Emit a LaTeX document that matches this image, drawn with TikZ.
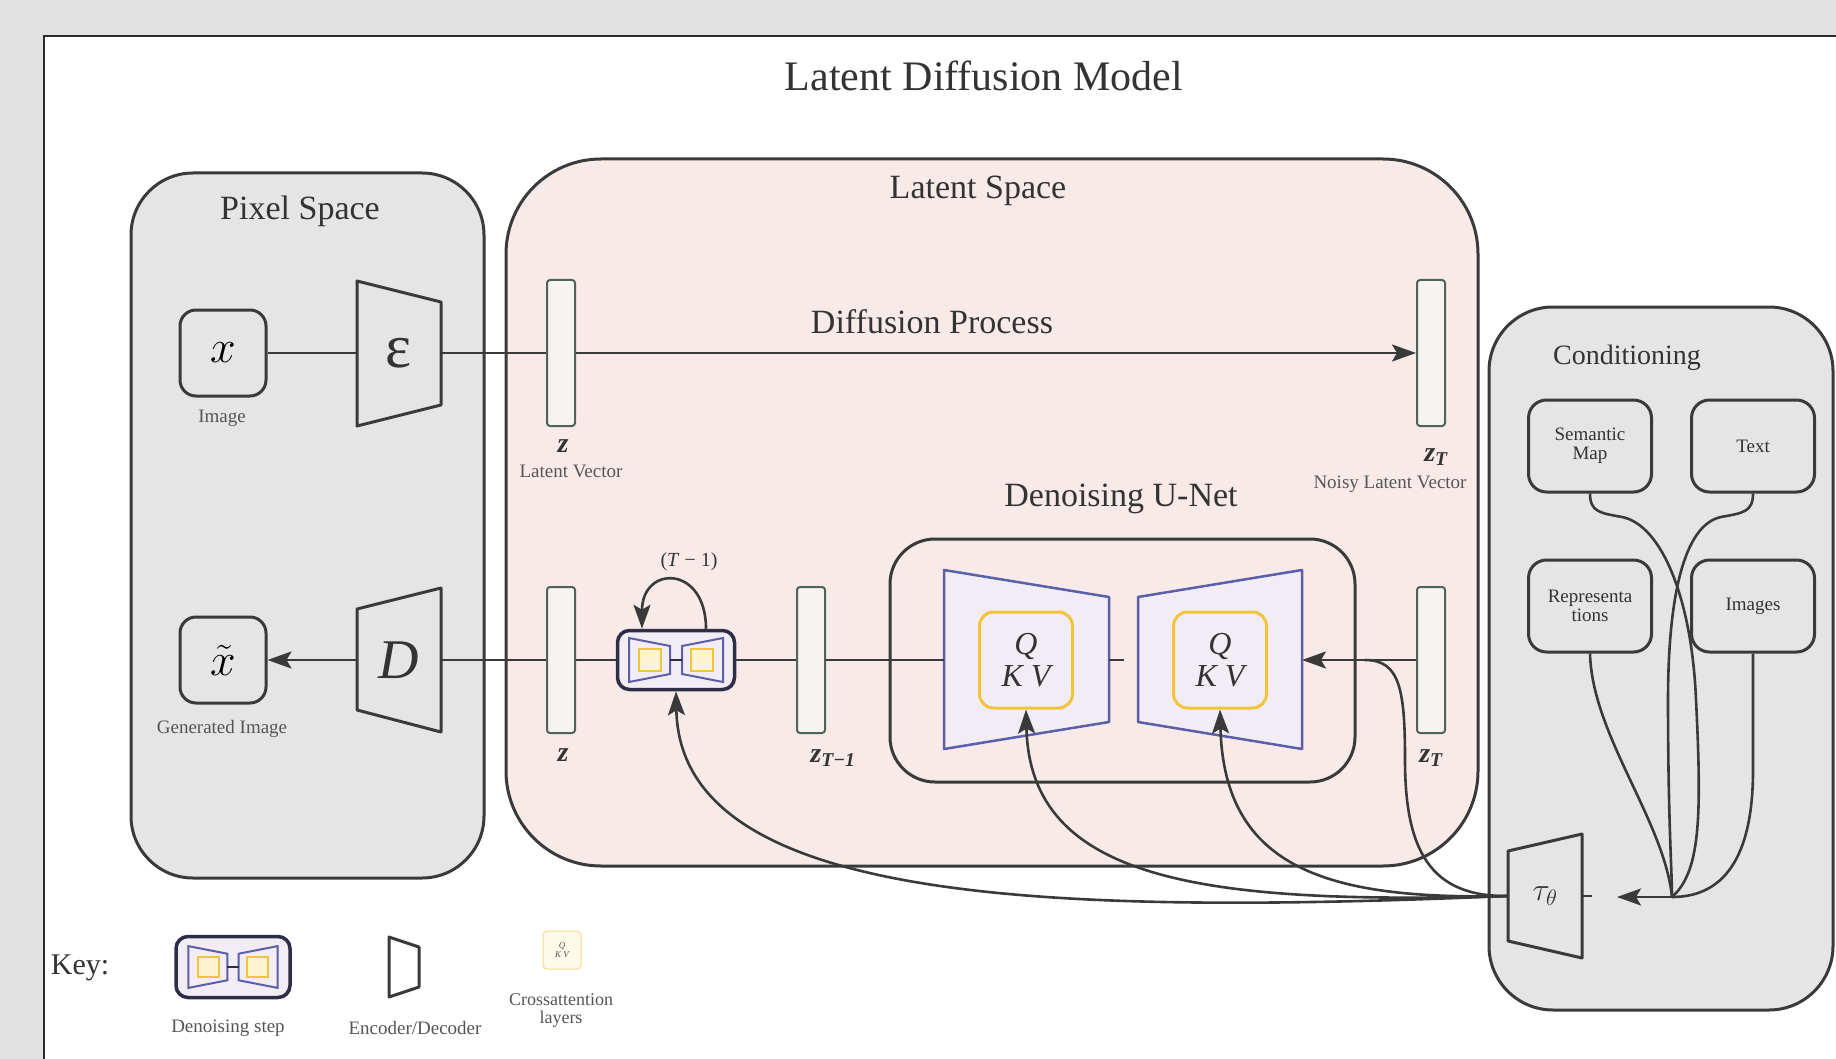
\RequirePackage{fix-cm}
\documentclass[tikz,border=0pt]{standalone}
\usepackage{fontspec}
\setmainfont{Liberation Serif}
\usetikzlibrary{positioning,arrows.meta}

\definecolor{pagegray}{HTML}{E1E1E1}
\definecolor{framegray}{HTML}{2B2B2B}
\definecolor{boxgray}{HTML}{E5E5E5}
\definecolor{edgegray}{HTML}{3A3A3A}
\definecolor{inkgray}{HTML}{333333}
\definecolor{labelgray}{HTML}{555555}
\definecolor{latentpink}{HTML}{F9EAEA}
\definecolor{unetblue}{HTML}{5B5FA8}
\definecolor{unetfill}{HTML}{F2EDF5}
\definecolor{attnyellow}{HTML}{F0C43C}
\definecolor{attnfill}{HTML}{FCF3D2}
\definecolor{vecgreen}{HTML}{4F6358}
\definecolor{vecfill}{HTML}{F6F4F0}
\definecolor{stepnavy}{HTML}{2D2D45}

\pgfdeclarelayer{back}
\pgfdeclarelayer{wires}
\pgfsetlayers{back,wires,main}

\newcommand{\fsz}[1]{\fontsize{#1}{#1}\selectfont}

% small denoising-step glyph at (#1), scaled by #2
\newcommand{\stepglyph}[2]{%
  \begin{scope}[shift={(#1)},scale=#2]
    \draw[unetblue,line width=2pt,fill=unetfill] (-47,-22) -- (-6,-14) -- (-6,14) -- (-47,22) -- cycle;
    \draw[unetblue,line width=2pt,fill=unetfill] (47,-22) -- (6,-14) -- (6,14) -- (47,22) -- cycle;
    \draw[attnyellow,line width=2pt,fill=attnfill] (-37,-11) rectangle (-15,11);
    \draw[attnyellow,line width=2pt,fill=attnfill] (15,-11) rectangle (37,11);
    \draw[stepnavy,line width=2pt] (-6,0) -- (6,0);
  \end{scope}}

\tikzset{
  spacebox/.style={draw=edgegray,line width=3pt,fill=boxgray},
  spacetitle/.style={font=\fsz{34},text=inkgray},
  inbox/.style={draw=edgegray,line width=3pt,rounded corners=16pt,fill=boxgray,minimum width=86pt,minimum height=86pt,inner sep=0pt},
  coderline/.style={draw=edgegray,line width=3pt,fill=boxgray,line join=round},
  codernode/.style={minimum width=84pt,minimum height=110pt,inner sep=0pt,text=inkgray},
  unetline/.style={draw=unetblue,line width=2.5pt,fill=unetfill,line join=round},
  vecbox/.style={draw=vecgreen,line width=2pt,rounded corners=3pt,fill=vecfill,minimum width=28pt,minimum height=146pt,inner sep=0pt},
  veclabel/.style={font=\fsz{28}\itshape\bfseries,text=inkgray},
  smalllabel/.style={font=\fsz{19},text=labelgray,align=center},
  stepbox/.style={draw=stepnavy,line width=3.5pt,rounded corners=12pt,fill=unetfill,minimum width=117pt,minimum height=59pt},
  attnbox/.style={draw=attnyellow,line width=3pt,rounded corners=14pt,fill=unetfill,minimum width=93pt,minimum height=96pt,align=center,font=\fsz{32}\itshape,text=inkgray},
  condbox/.style={draw=edgegray,line width=3pt,rounded corners=18pt,fill=boxgray,minimum width=123pt,minimum height=92pt,align=center,font=\fsz{19},text=inkgray},
  link/.style={draw=edgegray,line width=2.6pt},
  arr/.style={link,-{Stealth[length=24pt,width=17pt,inset=5pt]}},
}

\begin{document}
\begin{tikzpicture}[x=1pt,y=-1pt]
  \useasboundingbox (0,0) rectangle (1836,1059);

  \begin{pgfonlayer}{back}
    \fill[pagegray] (0,0) rectangle (1836,1059);
    \draw[draw=framegray,line width=2.5pt,fill=white] (44,36) rectangle (1850,1075);
    % spaces
    \draw[spacebox,rounded corners=62pt] (131,173) rectangle (484,878);
    \draw[spacebox,fill=latentpink,rounded corners=95pt] (506,159) rectangle (1478,866);
    \draw[spacebox,fill=latentpink,rounded corners=45pt] (890,539) rectangle (1355,782);
    \draw[spacebox,rounded corners=64pt] (1489,307) rectangle (1833,1010);
    % encoder / decoder
    \draw[coderline] (357,281) -- (441,302) -- (441,405) -- (357,426) -- cycle;
    \draw[coderline] (357,609) -- (441,588) -- (441,732) -- (357,710) -- cycle;
    % u-net halves
    \draw[unetline] (944,570) -- (1109,597) -- (1109,722) -- (944,749) -- cycle;
    \draw[unetline] (1138,597) -- (1302,570) -- (1302,749) -- (1138,722) -- cycle;
  \end{pgfonlayer}

  \node[font=\fsz{42},text=inkgray] (title) at (984,76) {Latent Diffusion Model};

  % pixel space
  \node[spacetitle] (pixtitle) at (300,211) {Pixel Space};
  \node[inbox] (ximg) at (223,353) {\fsz{46}$x$};
  \node[smalllabel] (ximglbl) at (222,418) {Image};
  \node[codernode] (enc) at (399,353) {\fsz{62}ε};
  \node[inbox] (xgen) at (223,660) {\fsz{46}$\tilde{x}$};
  \node[smalllabel] (xgenlbl) at (222,729) {Generated Image};
  \node[codernode] (dec) at (399,660) {\fsz{56}\textit{D}};

  % latent space
  \node[spacetitle] (lattitle) at (978,191) {Latent Space};
  \node[vecbox] (zenc) at (561,353) {};
  \node[veclabel] (zenclbl) at (563,446) {z};
  \node[smalllabel] (zencsub) at (571,471) {Latent Vector};
  \node[spacetitle] (difftitle) at (932,322) {Diffusion Process};
  \node[vecbox] (znoisy) at (1431,353) {};
  \node[veclabel] (znoisylbl) at (1436,457) {z\textsubscript{T}};
  \node[smalllabel] (znoisysub) at (1390,484) {Noisy Latent Vector};
  \node[spacetitle] (unettitle) at (1121,499) {Denoising U-Net};

  \node[vecbox] (zout) at (561,660) {};
  \node[veclabel] (zoutlbl) at (563,755) {z};
  \node[stepbox] (step) at (676,660) {};
  \stepglyph{676,660}{1}
  \node[font=\fsz{20},text=inkgray] (looplbl) at (689,562) {(\textit{T} − 1)};
  \node[vecbox] (zprev) at (811,660) {};
  \node[veclabel] (zprevlbl) at (833,758) {z\textsubscript{T−1}};
  \node[attnbox] (attnL) at (1026,660) {Q\\K V};
  \node[attnbox] (attnR) at (1220,660) {Q\\K V};
  \node[vecbox] (zin) at (1431,660) {};
  \node[veclabel] (zinlbl) at (1431,758) {z\textsubscript{T}};

  \coordinate (unetin) at (944,660);
  \coordinate (unetmid) at (1109,660);
  \coordinate (unetgap) at (1124,660);
  \coordinate (unetout) at (1302,660);
  \coordinate (joinpt) at (1365,660);

  % conditioning
  \node[font=\fsz{28},text=inkgray] (condtitle) at (1627,358) {Conditioning};
  \node[condbox] (semmap) at (1590,446) {Semantic\\Map};
  \node[condbox] (txt) at (1753,446) {Text};
  \node[condbox] (repr) at (1590,606) {Representa\\tions};
  \node[condbox] (imgs) at (1753,606) {Images};
  \draw[coderline] (1508,851) -- (1582,834) -- (1582,958) -- (1508,941) -- cycle;
  \node[minimum width=74pt,inner sep=0pt,text=inkgray] (tau) at (1545,896) {\fsz{32}$\tau_\theta$};
  \coordinate (merge) at (1672,897);
  \coordinate (tauin) at (1617,897);

  % key
  \node[font=\fsz{30},text=inkgray] (keylbl) at (80,968) {Key:};
  \node[stepbox,minimum width=114pt,minimum height=61pt] (keystep) at (233,967) {};
  \stepglyph{233,967}{0.95}
  \node[smalllabel] (keysteplbl) at (228,1028) {Denoising step};
  \draw[coderline,fill=white] (389,937) -- (419,947) -- (419,987) -- (389,997) -- cycle;
  \node[minimum width=30pt,minimum height=60pt] (keycoder) at (404,967) {};
  \node[smalllabel] (keycoderlbl) at (415,1028) {Encoder/Decoder};
  \node[draw=attnyellow!60,line width=1pt,fill=attnfill!50,rounded corners=4pt,minimum width=38pt,minimum height=38pt,align=center,font=\fsz{9}\itshape,text=labelgray] (keyattn) at (562,950) {Q\\K V};
  \node[smalllabel,font=\fsz{18}] (keyattnlbl) at (561,1010) {Crossattention\\layers};

  \begin{pgfonlayer}{wires}
    \draw[link] (ximg) -- (enc);
    \draw[arr] (enc) -- (znoisy);
    \draw[arr] (dec) -- (xgen);
    \draw[link] (dec) -- (unetin);
    \draw[link] (unetmid) -- (unetgap);
    \draw[arr] (zin) -- (unetout);
    \draw[arr] ([xshift=30pt]step.north) .. controls +(0,-64) and +(0,-64) .. ([xshift=-34pt]step.north);
    % conditioning inputs
    \draw[link] (semmap.south) .. controls (1590,512) and (1600,513) .. (1622,517)
      .. controls (1662,525) and (1692,600) .. (1696,700)
      .. controls (1702,820) and (1700,872) .. (merge);
    \draw[link] (txt.south) .. controls (1753,512) and (1743,513) .. (1721,517)
      .. controls (1683,525) and (1668,600) .. (1668,700)
      .. controls (1668,820) and (1672,872) .. (merge);
    \draw[link] (repr.south) .. controls (1592,735) and (1664,820) .. (merge);
    \draw[link] (imgs.south) -- (1753,770) .. controls (1753,860) and (1722,897) .. (merge);
    \draw[arr] (merge) -- (tauin);
    \draw[edgegray,line width=1.5pt] ([xshift=-10pt]tau.west) -- ([xshift=10pt]tau.east);
    % conditioning to the denoiser
    \draw[arr] (tau.west) .. controls (1050,915) and (680,905) .. (step.south);
    \draw[arr] (tau.west) .. controls (1200,905) and (1030,880) .. (attnL.south);
    \draw[arr] (tau.west) .. controls (1330,900) and (1224,870) .. (attnR.south);
    \draw[link] (tau.west) .. controls (1430,897) and (1405,850) .. (1405,760)
      .. controls (1405,690) and (1400,660) .. (joinpt);
  \end{pgfonlayer}
\end{tikzpicture}
\end{document}
